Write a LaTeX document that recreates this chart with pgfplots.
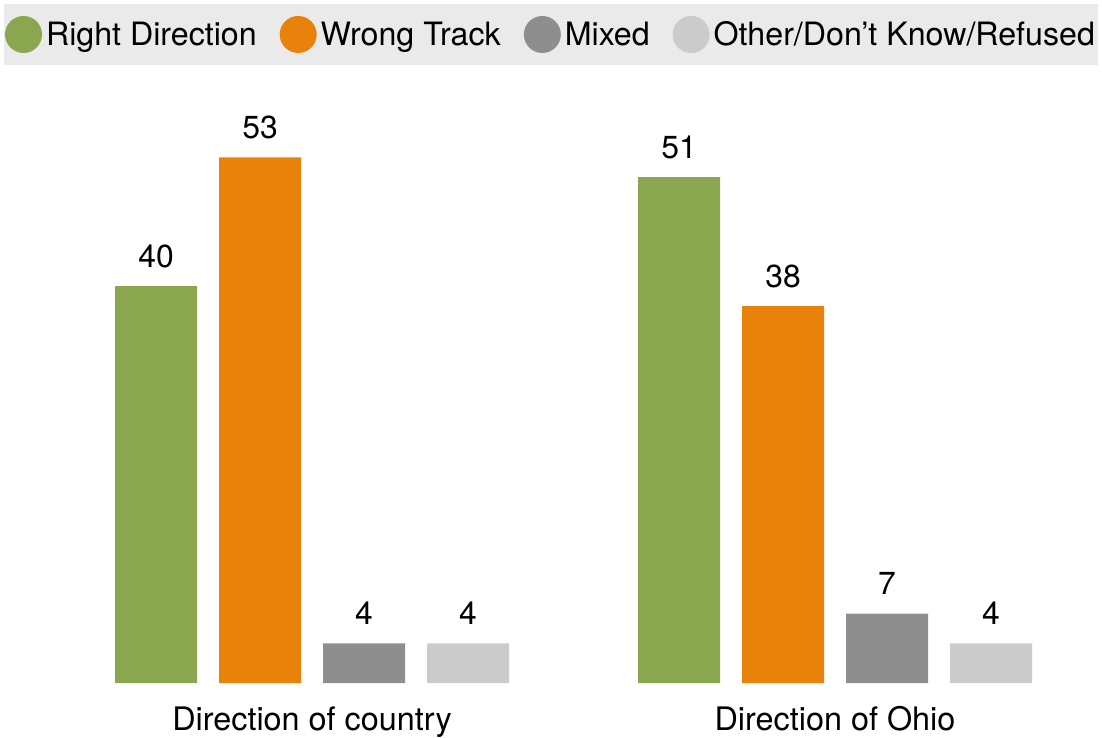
\documentclass[border=0pt]{standalone}
\usepackage{fontspec}
\setmainfont{TeX Gyre Heros}
\usepackage{pgfplots}
\pgfplotsset{compat=1.18}
\definecolor{cgreen}{HTML}{8AA64E}
\definecolor{corange}{HTML}{E9820A}
\definecolor{cdark}{HTML}{8E8E8E}
\definecolor{clight}{HTML}{CBCBCB}
\definecolor{legbg}{HTML}{EAEAEA}
\begin{document}
\begin{tikzpicture}
\begin{axis}[
  scale only axis, width=1102bp, height=603bp,
  xmin=0, xmax=1102, ymin=0, ymax=60.79,
  axis line style={draw=none},
  ytick=\empty,
  xtick={312,835},
  xticklabels={Direction of country, Direction of Ohio},
  major tick length=0pt,
  xticklabel style={anchor=base, yshift=-47bp, inner sep=0pt, font=\fontsize{32.5}{38}\selectfont},
  ybar, bar width=82,
  /pgf/number format/assume math mode=true,
  nodes near coords,
  every node near coord/.append style={anchor=base, yshift=19bp, inner sep=0pt, font=\fontsize{32}{38}\selectfont, text=black},
  legend columns=4,
  legend style={at={(0.5,1)}, anchor=south, yshift=15bp, fill=legbg, draw=none,
    inner xsep=1bp, inner ysep=12bp, outer sep=0bp, font=\fontsize{32.3}{38}\selectfont,
    /tikz/every even column/.append style={column sep=21bp},
    /tikz/every odd column/.append style={column sep=2bp}},
  legend image code/.code={\path[#1,draw=none] (18.5bp,0bp) circle[radius=18.5bp];},
]
\addplot[fill=cgreen, draw=none, bar shift=0pt] coordinates {(156,40) (679,51)};
\addplot[fill=corange, draw=none, bar shift=0pt] coordinates {(260,53) (783,38)};
\addplot[fill=cdark, draw=none, bar shift=0pt] coordinates {(364,4) (887,7)};
\addplot[fill=clight, draw=none, bar shift=0pt] coordinates {(468,4) (991,4)};
\legend{Right Direction, Wrong Track, Mixed, Other/Don’t Know/Refused}
\end{axis}
\path (current axis.north) ++(0,80bp);
\end{tikzpicture}
\end{document}
